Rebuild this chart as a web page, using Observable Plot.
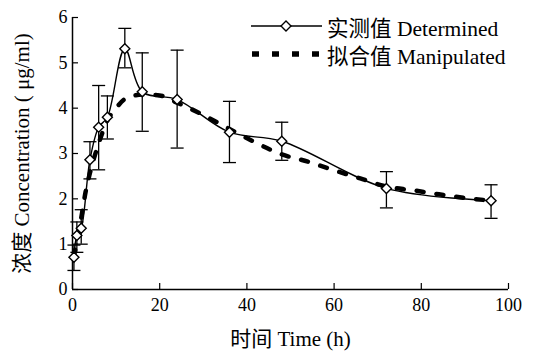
<!DOCTYPE html>
<html><head><meta charset="utf-8">
<script src="https://cdn.jsdelivr.net/npm/d3@7"></script>
<script src="https://cdn.jsdelivr.net/npm/@observablehq/plot@0.6"></script>
<style>
body{margin:0;background:#fff;}
#wrap{position:relative;width:537px;height:353px;background:#fff;font-family:"Liberation Serif","Noto Sans CJK SC",serif;}
.lg{position:absolute;left:250px;height:28px;display:flex;align-items:center;font-size:21.5px;color:#000;white-space:nowrap;}
.lg svg{margin-right:3px;}
</style></head><body><div id="wrap"></div>
<script>
const times    = [0.33, 1, 2, 4, 6, 8, 12, 16, 24, 36, 48, 72, 96];
const measured = [0.71, 1.19, 1.35, 2.86, 3.58, 3.80, 5.31, 4.36, 4.19, 3.47, 3.27, 2.23, 1.96];
const errLow   = [0.42, 0.82, 1.00, 2.44, 2.64, 3.32, 4.89, 3.49, 3.12, 2.80, 2.85, 1.80, 1.57];
const errHigh  = [0.98, 1.49, 1.76, 3.26, 4.50, 4.27, 5.76, 5.22, 5.28, 4.15, 3.69, 2.60, 2.31];
const fitTimes = [0.33, 1, 2, 3, 4, 6, 8, 10, 12, 16, 20, 24, 30, 36, 42, 48, 54, 60, 66, 72, 78, 84, 90, 96];
const fitted   = [0.72, 1.10, 1.58, 2.15, 2.57, 3.22, 3.73, 4.00, 4.20, 4.30, 4.28, 4.12, 3.85, 3.54, 3.24, 2.98, 2.82, 2.63, 2.45, 2.27, 2.19, 2.10, 2.02, 1.96];
const xTicks = [0, 20, 40, 60, 80, 100];
const yTicks = [0, 1, 2, 3, 4, 5, 6];
const xLabel = "时间 Time (h)";
const yLabel = "浓度 Concentration ( μg/ml)";
const legendLabels = ["实测值 Determined", "拟合值 Manipulated"];

const W = 537, H = 353, mL = 72, mR = 29, mT = 17, mB = 64;
const plotW = W - mL - mR, plotH = H - mT - mB;
const meas = times.map((t, i) => ({t, c: measured[i], lo: errLow[i], hi: errHigh[i]}));
const fit = fitTimes.map((t, i) => ({t, c: fitted[i]}));
const cap = {draw(ctx) { ctx.moveTo(-6.5, 0); ctx.lineTo(6.5, 0); }};

const chart = Plot.plot({
  width: W, height: H,
  marginLeft: mL, marginRight: mR, marginTop: mT, marginBottom: mB,
  style: {fontFamily: '"Liberation Serif","Noto Sans CJK SC",serif', fontSize: "18px", color: "#000", background: "#fff"},
  x: {domain: [0, 100]},
  y: {domain: [0, 6]},
  marks: [
    Plot.axisX(xTicks, {tickSize: 0, tickPadding: 9, label: null, fontSize: 18}),
    Plot.axisY(yTicks, {tickSize: 0, tickPadding: 5, label: null, fontSize: 18}),
    Plot.tickX(xTicks, {x: d => d, stroke: "#000", strokeWidth: 1.2, insetTop: plotH - 6}),
    Plot.tickY(yTicks, {y: d => d, stroke: "#000", strokeWidth: 1.2, insetRight: plotW - 6}),
    Plot.ruleX([0], {stroke: "#000", strokeWidth: 1.5}),
    Plot.ruleY([0], {stroke: "#000", strokeWidth: 1.5}),
    Plot.ruleX(meas, {x: "t", y1: "lo", y2: "hi", stroke: "#000", strokeWidth: 1.3}),
    Plot.dot(meas, {x: "t", y: "lo", symbol: cap, stroke: "#000", strokeWidth: 1.3, fill: "none"}),
    Plot.dot(meas, {x: "t", y: "hi", symbol: cap, stroke: "#000", strokeWidth: 1.3, fill: "none"}),
    Plot.line(fit, {x: "t", y: "c", stroke: "#000", strokeWidth: 4.5, strokeDasharray: "7,13", curve: "monotone-x"}),
    Plot.line(meas, {x: "t", y: "c", stroke: "#000", strokeWidth: 1.4, curve: "catmull-rom"}),
    Plot.dot(meas, {x: "t", y: "c", symbol: "diamond2", r: 4.5, fill: "#fff", stroke: "#000", strokeWidth: 1.4}),
    Plot.text([xLabel], {text: d => d, frameAnchor: "bottom", textAnchor: "middle", dy: 56, fontSize: 21}),
    Plot.text([yLabel], {text: d => d, frameAnchor: "left", textAnchor: "middle", rotate: -90, dx: -50, fontSize: 21})
  ]
});
const wrap = document.getElementById("wrap");
wrap.appendChild(chart);

const rows = [
  `<svg width="74" height="14"><line x1="1" y1="7" x2="72" y2="7" stroke="#000" stroke-width="1.4"/><path d="M36,2 L41,7 L36,12 L31,7 Z" fill="#fff" stroke="#000" stroke-width="1.4"/></svg>`,
  `<svg width="74" height="14"><line x1="2" y1="7" x2="72" y2="7" stroke="#000" stroke-width="5.5" stroke-dasharray="7,13"/></svg>`
];
legendLabels.forEach((lab, i) => {
  const d = document.createElement("div");
  d.className = "lg";
  d.style.top = (12 + i * 28) + "px";
  d.innerHTML = rows[i] + `<span>${lab}</span>`;
  wrap.appendChild(d);
});
</script></body></html>
